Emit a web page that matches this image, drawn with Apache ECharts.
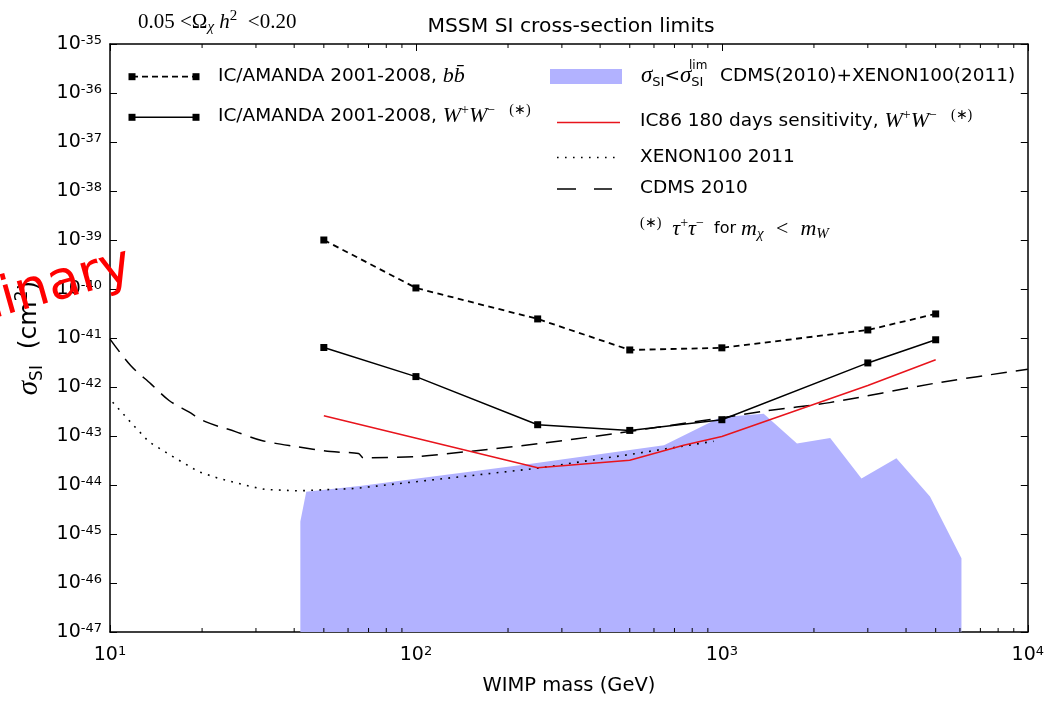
<!DOCTYPE html>
<html>
<head>
<meta charset="utf-8">
<script src="https://cdn.jsdelivr.net/npm/echarts@6/dist/echarts.min.js"></script>
<style>
  html, body { margin: 0; padding: 0; background: #fff; }
  #chart { width: 1047px; height: 701px; }
</style>
</head>
<body>
<div id="chart"></div>
<script>
// IceCube / AMANDA 2001-2008 limits (GeV, cm^2)
const massIC = [50, 100, 250, 500, 1000, 3000, 5000];
const limitBB = [1e-39, 1.05e-40, 2.45e-41, 5.7e-42, 6.3e-42, 1.46e-41, 3.1e-41];
const limitWW = [6.4e-42, 1.63e-42, 1.7e-43, 1.3e-43, 2.15e-43, 3.1e-42, 9.2e-42];

// IC86 180 days sensitivity, W+W-
const massIC86 = [50, 250, 500, 750, 1000, 3000, 5000];
const sensIC86 = [2.6e-43, 2.24e-44, 3.2e-44, 6.5e-44, 9.8e-44, 1.07e-42, 3.6e-42];

// XENON100 2011
const massXenon = [10.2, 11.8, 13.4, 16.4, 19.5, 22.7, 29.1, 32.2, 41.4, 63.2, 250, 500, 940];
const sigmaXenon = [4.9e-43, 1.78e-43, 7.6e-44, 3.5e-44, 1.86e-44, 1.36e-44, 9.2e-45, 8.1e-45, 7.6e-45, 8.5e-45, 2.2e-44, 4.2e-44, 7.8e-44];

// CDMS 2010
const massCdms = [10, 11.7, 13.6, 15.6, 18.1, 20.5, 25.7, 31.3, 40.4, 52.6, 64.9, 67.3, 100, 152, 253, 445, 1000, 1370, 2250, 5000, 10000];
const sigmaCdms = [9.5e-42, 2.7e-42, 1.16e-42, 5.3e-43, 3.1e-43, 1.96e-43, 1.23e-43, 8.1e-44, 6.1e-44, 4.8e-44, 4.4e-44, 3.6e-44, 3.8e-44, 4.9e-44, 7e-44, 1.12e-43, 2.36e-43, 3.2e-43, 4.8e-43, 1.2e-42, 2.3e-42];

// MSSM models allowed by CDMS(2010)+XENON100(2011)
const massAllowed = [41.9, 41.9, 43.8, 66.5, 238, 647, 990, 1370, 1760, 2260, 2860, 3720, 4790, 6070, 6070];
const sigmaAllowed = [1e-47, 1.79e-45, 7.3e-45, 9.6e-45, 2.7e-44, 6.5e-44, 2.4e-43, 2.85e-43, 7e-44, 9.1e-44, 1.36e-44, 3.5e-44, 5.8e-45, 3.2e-46, 1e-47];

// axis ranges; the cross-section axis runs over decades (powers of ten)
const massRange = [10, 10000];
const sigmaDecades = [-47, -35];
const minorMass = [20, 30, 40, 50, 60, 70, 80, 90, 200, 300, 400, 500, 600, 700, 800, 900, 2000, 3000, 4000, 5000, 6000, 7000, 8000, 9000];

// cross sections are placed on a decade axis
const pairs = (xs, ys) => xs.map((x, i) => [x, Math.log10(ys[i])]);

const SANS = 'DejaVu Sans';
const SERIF = 'Liberation Serif';

const powRich = {
  b: { fontFamily: SANS, fontSize: 19, color: '#000', lineHeight: 20, padding: [9, 0, 0, 0], verticalAlign: 'bottom' },
  s: { fontFamily: SANS, fontSize: 13, color: '#000', lineHeight: 14, verticalAlign: 'top' }
};
const powLabelMass = v => '{b|10}{s|' + Math.round(Math.log10(v)) + '}';
const powLabelSigma = v => '{b|10}{s|' + Math.round(v) + '}';

const axisLineStyle = { color: '#000', width: 1.5 };
const tickStyle = { color: '#000', width: 1 };

const legendRich = {
  t: { fontFamily: SANS, fontSize: 18.5, color: '#000', lineHeight: 26 },
  f: { fontFamily: SANS, fontSize: 16, color: '#000', lineHeight: 26 },
  m: { fontFamily: SERIF, fontStyle: 'italic', fontSize: 22, color: '#000', lineHeight: 26 },
  g: { fontFamily: SERIF, fontStyle: 'italic', fontSize: 23, color: '#000', lineHeight: 26 },
  sp: { fontFamily: SERIF, fontSize: 14, color: '#000', lineHeight: 14, verticalAlign: 'top' },
  sub: { fontFamily: SANS, fontSize: 13, color: '#000', lineHeight: 14, verticalAlign: 'bottom' },
  subm: { fontFamily: SERIF, fontStyle: 'italic', fontSize: 15, color: '#000', lineHeight: 14, verticalAlign: 'bottom' }
};

function handleLine(x1, x2, y, style) {
  return { type: 'line', shape: { x1: x1, y1: y, x2: x2, y2: y }, style: Object.assign({ stroke: '#000', lineWidth: 1.5 }, style), z: 50 };
}
function square(cx, cy) {
  return { type: 'rect', shape: { x: cx - 3.5, y: cy - 3.5, width: 7, height: 7 }, style: { fill: '#000' }, z: 51 };
}
function legendText(x, y, text) {
  return { type: 'text', x: x, y: y, style: { text: text, rich: legendRich, align: 'left', verticalAlign: 'middle', fill: '#000' }, z: 50 };
}

const graphics = [
  // title
  { type: 'text', x: 571, y: 27, style: { text: 'MSSM SI cross-section limits', font: '20.3px "DejaVu Sans"', fill: '#000', align: 'center', verticalAlign: 'middle' } },
  // relic density window
  { type: 'text', x: 138, y: 22, style: {
      text: '{r|0.05 <Ω}{sub|χ}{i| h}{sup|2}{r|  <0.20}',
      rich: {
        r: { fontFamily: SERIF, fontSize: 21, color: '#000', lineHeight: 26 },
        i: { fontFamily: SERIF, fontStyle: 'italic', fontSize: 21, color: '#000', lineHeight: 26 },
        sub: { fontFamily: SERIF, fontStyle: 'italic', fontSize: 15, color: '#000', lineHeight: 14, verticalAlign: 'bottom' },
        sup: { fontFamily: SERIF, fontSize: 15, color: '#000', lineHeight: 14, verticalAlign: 'top' }
      },
      align: 'left', verticalAlign: 'middle' } },

  // legend, left column
  handleLine(132, 196, 76.7, { lineWidth: 1.8, lineDash: [6, 4] }),
  square(132, 76.7), square(196, 76.7),
  legendText(218, 76, '{t|IC/AMANDA 2001-2008, }{m|bb̄}'),
  handleLine(132, 196, 117.3, { lineWidth: 1.5 }),
  square(132, 117.3), square(196, 117.3),
  legendText(218, 116, '{t|IC/AMANDA 2001-2008, }{m|W}{sp|+}{m|W}{sp|−    (∗)}'),

  // legend, right column
  { type: 'rect', shape: { x: 550, y: 69, width: 72, height: 15 }, style: { fill: '#b2b2ff' }, z: 50 },
  legendText(641, 76, '{g|σ}{sub|SI}{t|<}{g|σ}{sub|SI}'),
  { type: 'text', x: 689, y: 66, style: { text: 'lim', font: '12px "DejaVu Sans"', fill: '#000', align: 'left', verticalAlign: 'middle' }, z: 50 },
  legendText(720, 76, '{t|CDMS(2010)+XENON100(2011)}'),
  handleLine(557, 620, 122.5, { stroke: '#e8141c', lineWidth: 1.5 }),
  legendText(640, 121, '{t|IC86 180 days sensitivity, }{m|W}{sp|+}{m|W}{sp|−    (∗)}'),
  handleLine(557, 620, 157.5, { lineWidth: 1.5, lineDash: [1.6, 6.4] }),
  legendText(640, 157, '{t|XENON100 2011}'),
  handleLine(557, 612, 189, { lineWidth: 1.5, lineDash: [19, 18] }),
  legendText(640, 188, '{t|CDMS 2010}'),
  legendText(640, 229, '{sp|(∗)}{m|  τ}{sp|+}{m|τ}{sp|−}{f|  for }{m|m}{subm|χ}{m|  <  m}{subm|W}'),

  // watermark
  { type: 'text', x: 131, y: 265, rotation: 0.275, style: { text: 'Preliminary', font: '53px "DejaVu Sans"', fill: '#ff0000', align: 'right', verticalAlign: 'middle' }, z: 200 }
];

const chart = echarts.init(document.getElementById('chart'), null, { renderer: 'canvas' });
chart.setOption({
  animation: false,
  backgroundColor: '#fff',
  grid: { left: 110, right: 15, top: 44, bottom: 67 },
  xAxis: [
    {
      type: 'log', logBase: 10, min: massRange[0], max: massRange[1], position: 'bottom',
      axisLine: { show: true, lineStyle: axisLineStyle },
      axisTick: { show: true, inside: true, length: 7, lineStyle: tickStyle },
      axisLabel: { formatter: powLabelMass, rich: powRich, margin: 13 },
      splitLine: { show: false },
      name: 'WIMP mass (GeV)', nameLocation: 'middle', nameGap: 44,
      nameTextStyle: { fontFamily: SANS, fontSize: 19.5, color: '#000' }
    },
    {
      type: 'log', logBase: 10, min: massRange[0], max: massRange[1], position: 'top',
      axisLine: { show: true, lineStyle: axisLineStyle },
      axisTick: { show: true, inside: true, length: 7, lineStyle: tickStyle },
      axisLabel: { show: false }, splitLine: { show: false }
    }
  ],
  yAxis: [
    {
      type: 'value', min: sigmaDecades[0], max: sigmaDecades[1], interval: 1, position: 'left',
      axisLine: { show: true, lineStyle: axisLineStyle },
      axisTick: { show: true, inside: true, length: 7, lineStyle: tickStyle },
      axisLabel: { formatter: powLabelSigma, rich: powRich, margin: 8 },
      splitLine: { show: false },
      name: '{s|σ}{sub|SI}{n|  (cm}{sup|2}{n|)}', nameLocation: 'middle', nameGap: 58, nameRotate: 90,
      nameTextStyle: {
        rich: {
          s: { fontFamily: SERIF, fontStyle: 'italic', fontSize: 29, color: '#000', lineHeight: 32 },
          sub: { fontFamily: SANS, fontSize: 17, color: '#000', lineHeight: 17, verticalAlign: 'bottom' },
          n: { fontFamily: SANS, fontSize: 25, color: '#000', lineHeight: 32 },
          sup: { fontFamily: SANS, fontSize: 17, color: '#000', lineHeight: 17, verticalAlign: 'top' }
        }
      }
    },
    {
      type: 'value', min: sigmaDecades[0], max: sigmaDecades[1], interval: 1, position: 'right',
      axisLine: { show: true, lineStyle: axisLineStyle },
      axisTick: { show: true, inside: true, length: 7, lineStyle: tickStyle },
      axisLabel: { show: false }, splitLine: { show: false }
    }
  ],
  series: [
    {
      name: 'allowed', type: 'line', xAxisIndex: 0, yAxisIndex: 0,
      data: pairs(massAllowed, sigmaAllowed),
      showSymbol: false, lineStyle: { width: 0, color: '#b2b2ff' },
      areaStyle: { color: '#b2b2ff', opacity: 1, origin: 'start' }, z: 1, silent: true
    },
    {
      name: 'XENON100 2011', type: 'line', data: pairs(massXenon, sigmaXenon), showSymbol: false,
      lineStyle: { color: '#000', width: 1.6, type: [1.8, 6.3], cap: 'butt' }, z: 3
    },
    {
      name: 'CDMS 2010', type: 'line', data: pairs(massCdms, sigmaCdms), showSymbol: false, smooth: 0.3,
      lineStyle: { color: '#000', width: 1.5, type: [16, 9] }, z: 3
    },
    {
      name: 'IC86', type: 'line', data: pairs(massIC86, sensIC86), showSymbol: false,
      lineStyle: { color: '#e8141c', width: 1.5 }, z: 4
    },
    {
      name: 'IC/AMANDA bb', type: 'line', data: pairs(massIC, limitBB), symbol: 'rect', symbolSize: 7, showSymbol: true,
      itemStyle: { color: '#000' }, lineStyle: { color: '#000', width: 1.8, type: [6, 4.5] }, z: 5
    },
    {
      name: 'IC/AMANDA WW', type: 'line', data: pairs(massIC, limitWW), symbol: 'rect', symbolSize: 7, showSymbol: true,
      itemStyle: { color: '#000' }, lineStyle: { color: '#000', width: 1.5 }, z: 5
    },
    {
      // minor ticks of the logarithmic mass axis, bottom and top frame
      name: 'minor ticks', type: 'custom', silent: true, z: 6,
      data: minorMass.map(m => [m, sigmaDecades[0]]),
      renderItem: (params, api) => {
        const m = api.value(0);
        const b = api.coord([m, sigmaDecades[0]]);
        const t = api.coord([m, sigmaDecades[1]]);
        return {
          type: 'group',
          children: [
            { type: 'line', shape: { x1: b[0], y1: b[1], x2: b[0], y2: b[1] - 4 }, style: { stroke: '#000', lineWidth: 1 } },
            { type: 'line', shape: { x1: t[0], y1: t[1], x2: t[0], y2: t[1] + 4 }, style: { stroke: '#000', lineWidth: 1 } }
          ]
        };
      }
    }
  ],
  graphic: { elements: graphics }
});
</script>
</body>
</html>
